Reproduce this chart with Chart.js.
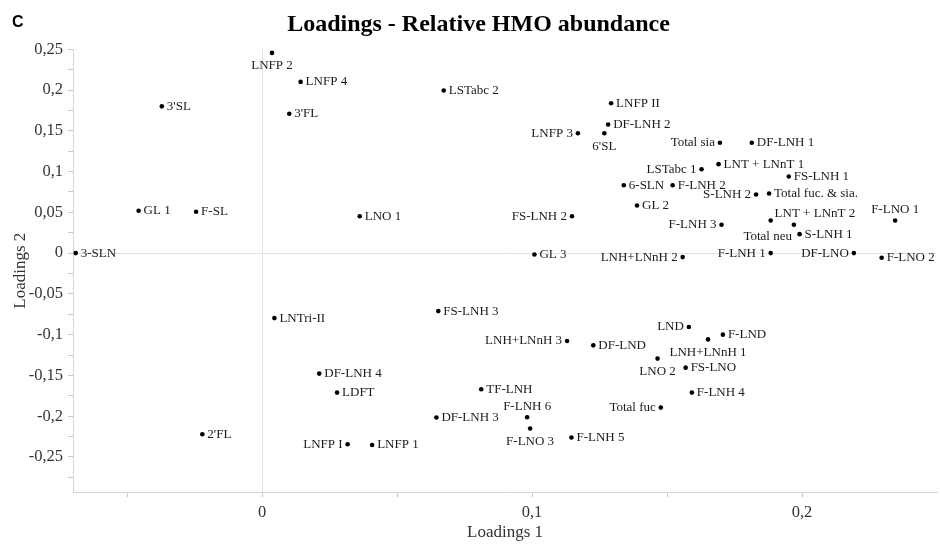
<!DOCTYPE html>
<html>
<head>
<meta charset="utf-8">
<title>Loadings - Relative HMO abundance</title>
<script src="https://cdn.jsdelivr.net/npm/chart.js@4"></script>
<style>
  html, body { margin: 0; padding: 0; background: #fff; }
  #wrap { position: relative; width: 940px; height: 545px; }
</style>
</head>
<body>
<div id="wrap"><canvas id="loadingsChart" width="940" height="545"></canvas></div>
<script>
/* ====================
   DATA
==================== */
const names = [
  "3-SLN", "GL 1", "F-SL", "3'SL", "LNFP 2", "LNFP 4", "3'FL", "LSTabc 2", "LNO 1",
  "LNFP 3", "6'SL", "LNFP II", "DF-LNH 2", "FS-LNH 2", "GL 3", "Total sia", "DF-LNH 1",
  "LSTabc 1", "LNT + LNnT 1", "FS-LNH 1", "6-SLN", "F-LNH 2", "S-LNH 2", "Total fuc. & sia.",
  "GL 2", "F-LNO 1", "Total neu", "LNT + LNnT 2", "S-LNH 1", "F-LNH 3", "LNH+LNnH 2",
  "F-LNH 1", "DF-LNO", "F-LNO 2", "LNTri-II", "2'FL", "FS-LNH 3", "LNH+LNnH 3", "DF-LND",
  "DF-LNH 4", "LDFT", "TF-LNH", "F-LNH 6", "DF-LNH 3", "F-LNO 3", "F-LNH 5", "LNFP I",
  "LNFP 1", "LND", "LNH+LNnH 1", "F-LND", "LNO 2", "FS-LNO", "F-LNH 4", "Total fuc"
];
const loadings1 = [
  -0.069, -0.0457, -0.0244, -0.0371, 0.0037, 0.0143, 0.0101, 0.0673, 0.0362,
  0.117, 0.1268, 0.1293, 0.1282, 0.1148, 0.1009, 0.1696, 0.1814,
  0.1628, 0.1691, 0.1951, 0.134, 0.1521, 0.183, 0.1878,
  0.1389, 0.2345, 0.1884, 0.197, 0.1991, 0.1702, 0.1558,
  0.1884, 0.2192, 0.2295, 0.0046, -0.0221, 0.0653, 0.113, 0.1227,
  0.0212, 0.0278, 0.0812, 0.0982, 0.0646, 0.0993, 0.1146, 0.0317,
  0.0408, 0.1581, 0.1652, 0.1707, 0.1465, 0.1569, 0.1592, 0.1477
];
const loadings2 = [
  0.0, 0.052, 0.0507, 0.18, 0.2456, 0.21, 0.171, 0.1994, 0.0453,
  0.147, 0.147, 0.1838, 0.1577, 0.0453, -0.0016, 0.1353, 0.1353,
  0.1029, 0.1091, 0.094, 0.0833, 0.0833, 0.0719, 0.0732,
  0.0585, 0.0401, 0.0401, 0.0348, 0.0233, 0.0348, -0.0049,
  0.0, 0.0, -0.0057, -0.0797, -0.2222, -0.0711, -0.1078, -0.1131,
  -0.1478, -0.1711, -0.167, -0.2013, -0.2017, -0.2152, -0.2262, -0.2344,
  -0.2353, -0.0907, -0.1058, -0.1, -0.1294, -0.1405, -0.1711, -0.1895
];

// where each label sits relative to its point: r = right, l = left, a = above, b = below
const labelSide = [
  "r", "r", "r", "r", "b", "r", "r", "r", "r",
  "l", "b", "r", "r", "l", "r", "l", "r",
  "l", "r", "r", "r", "r", "l", "r",
  "r", "a", "b", "a", "r", "l", "l",
  "l", "l", "r", "r", "r", "r", "l", "r",
  "r", "r", "r", "a", "r", "b", "r", "l",
  "r", "l", "b", "r", "b", "r", "r", "l"
];
const labelShift = { "LNT + LNnT 2": [21, 0], "Total neu": [-3, 3] };

const xMajorTicks = [0, 0.1, 0.2];
const xMinorTicks = [-0.05, 0.05, 0.15];
const yMajorTicks = [-0.25, -0.2, -0.15, -0.1, -0.05, 0, 0.05, 0.1, 0.15, 0.2, 0.25];
const yMinorTicks = [-0.275, -0.225, -0.175, -0.125, -0.075, -0.025, 0.025, 0.075, 0.125, 0.175, 0.225];

const SERIF = "'Liberation Serif', 'Times New Roman', serif";
const AXIS_GREY = "#d6d6d6";

/* ====================
   HELPERS
==================== */
const commaNum = v => String(Math.round(v * 1000) / 1000).replace(".", ",");

function setTicks(major, minor) {
  return scale => {
    scale.ticks = major.concat(minor).sort((a, b) => a - b).map(v => ({ value: v }));
  };
}

// point labels next to each marker
const pointLabels = {
  id: "pointLabels",
  afterDatasetsDraw(chart) {
    const ctx = chart.ctx;
    const meta = chart.getDatasetMeta(0);
    ctx.save();
    ctx.font = `13px ${SERIF}`;
    ctx.fillStyle = "#1a1a1a";
    meta.data.forEach((pt, i) => {
      const name = names[i];
      const [dx, dy] = labelShift[name] || [0, 0];
      let x = pt.x, y = pt.y;
      ctx.textBaseline = "middle";
      switch (labelSide[i]) {
        case "l": ctx.textAlign = "right"; x -= 5; break;
        case "a": ctx.textAlign = "center"; y -= 11; break;
        case "b": ctx.textAlign = "center"; y += 13; break;
        default: ctx.textAlign = "left"; x += 5;
      }
      ctx.fillText(name, x + dx, y + dy);
    });
    ctx.restore();
  }
};

// panel letter in the corner
const panelLetter = {
  id: "panelLetter",
  afterDraw(chart) {
    const ctx = chart.ctx;
    ctx.save();
    ctx.font = "bold 16px 'Liberation Sans', Arial, sans-serif";
    ctx.fillStyle = "#000";
    ctx.textAlign = "left";
    ctx.textBaseline = "alphabetic";
    ctx.fillText("C", 12, 27);
    ctx.restore();
  }
};

/* ====================
   CHART
==================== */
const points = names.map((_, i) => ({ x: loadings1[i], y: loadings2[i] }));

new Chart(document.getElementById("loadingsChart"), {
  type: "scatter",
  data: {
    datasets: [{
      data: points,
      pointRadius: 2.3,
      pointHoverRadius: 2.3,
      pointBackgroundColor: "#000",
      pointBorderWidth: 0
    }]
  },
  options: {
    responsive: false,
    animation: false,
    events: [],
    layout: { padding: { left: 20, right: 3, top: 0, bottom: 0 } },
    plugins: {
      legend: { display: false },
      tooltip: { enabled: false },
      title: {
        display: true,
        text: "Loadings - Relative HMO abundance",
        color: "#000",
        font: { family: SERIF, size: 24, weight: "bold", lineHeight: 1.2 },
        padding: { top: 10, bottom: 10.5 }
      }
    },
    scales: {
      x: {
        type: "linear",
        min: -0.07,
        max: 0.25,
        afterBuildTicks: setTicks(xMajorTicks, xMinorTicks),
        afterFit: scale => { scale.height = 53; },
        border: { color: AXIS_GREY, width: 1 },
        grid: {
          color: c => (c.tick && c.tick.value === 0 ? "#e2e2e2" : "rgba(0,0,0,0)"),
          tickColor: "#c8c8c8",
          tickLength: 5
        },
        ticks: {
          autoSkip: false,
          maxRotation: 0,
          padding: 6,
          color: "#333",
          font: { family: SERIF, size: 16.5 },
          callback: v => (xMajorTicks.includes(v) ? commaNum(v) : "")
        },
        title: {
          display: true,
          text: "Loadings 1",
          color: "#333",
          font: { family: SERIF, size: 17, lineHeight: 1.2 },
          padding: { top: 0, bottom: 2 }
        }
      },
      y: {
        type: "linear",
        min: -0.293,
        max: 0.25,
        afterBuildTicks: setTicks(yMajorTicks, yMinorTicks),
        afterFit: scale => { scale.width = 53; },
        border: { color: AXIS_GREY, width: 1 },
        grid: {
          color: c => (c.tick && c.tick.value === 0 ? "#e2e2e2" : "rgba(0,0,0,0)"),
          tickColor: "#c8c8c8",
          tickLength: 5
        },
        ticks: {
          autoSkip: false,
          padding: 5,
          color: "#333",
          font: { family: SERIF, size: 16.5 },
          callback: v => (yMajorTicks.includes(v) ? commaNum(v) : "")
        },
        title: {
          display: true,
          text: "Loadings 2",
          color: "#333",
          font: { family: SERIF, size: 17, lineHeight: 1.2 },
          padding: { top: -10, bottom: 0 }
        }
      }
    }
  },
  plugins: [pointLabels, panelLetter]
});
</script>
</body>
</html>
